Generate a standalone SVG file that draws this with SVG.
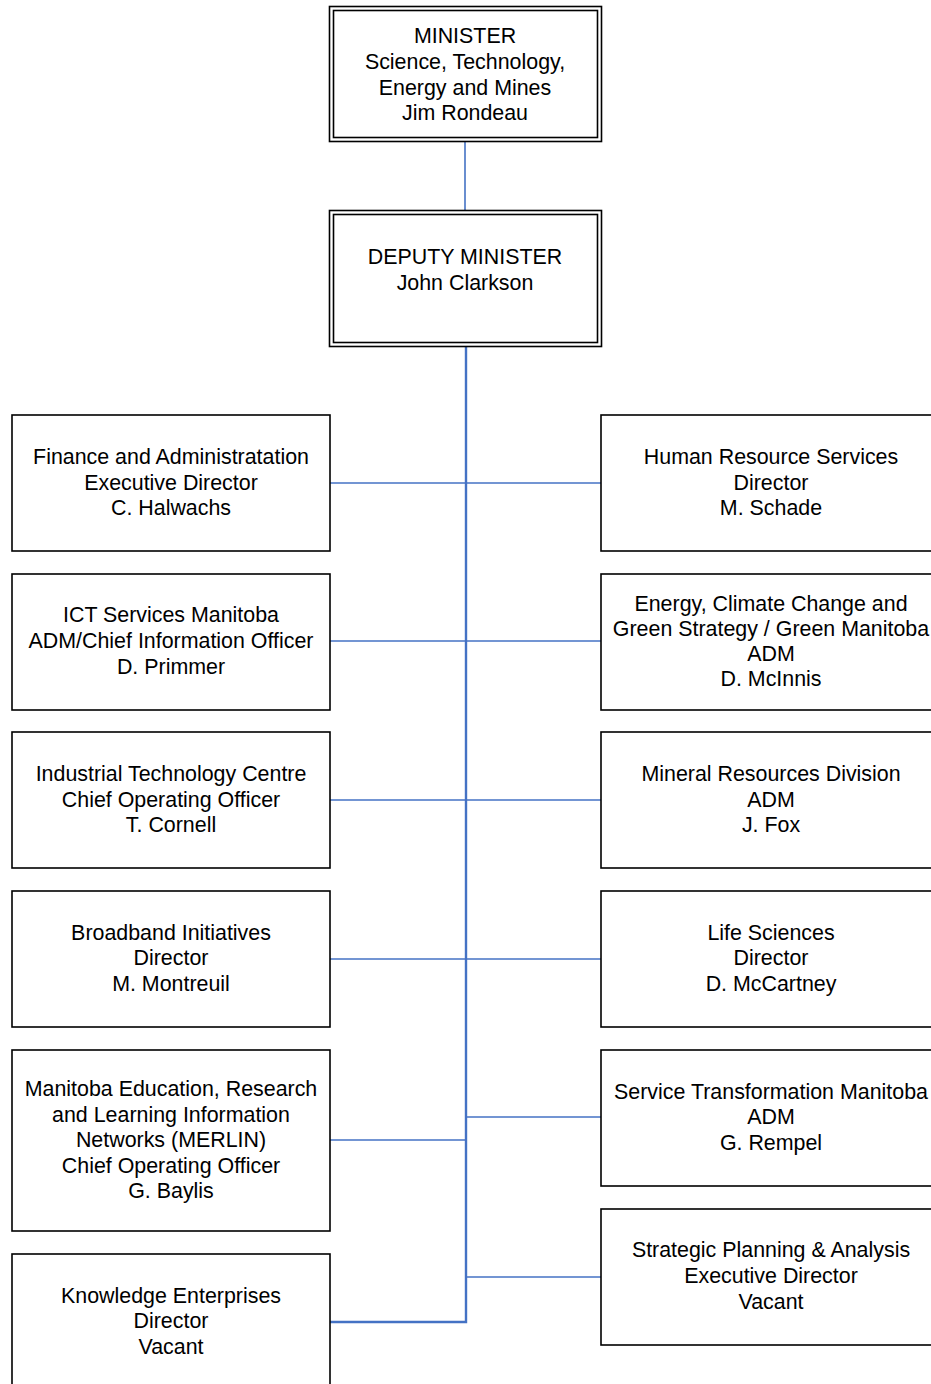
<svg xmlns="http://www.w3.org/2000/svg" width="931" height="1384" viewBox="0 0 931 1384">
<style>
.box{fill:#fff;stroke:#000;stroke-width:1.6}
.dbl{fill:none;stroke:#000;stroke-width:1.6}
text{font-family:"Liberation Sans",Arial,sans-serif;font-size:21.4px;fill:#000;text-anchor:middle}
.c{fill:none;stroke:#4472C4;stroke-width:1.6}
.ct{fill:none;stroke:#4472C4;stroke-width:2.4}
</style>
<rect width="931" height="1384" fill="#fff"/>
<g id="connectors">
<line class="c" x1="465" y1="142" x2="465" y2="210"/>
<polyline class="ct" points="466,347 466,1322 330,1322"/>
<line class="c" x1="330" y1="483" x2="601" y2="483"/>
<line class="c" x1="330" y1="641" x2="601" y2="641"/>
<line class="c" x1="330" y1="800" x2="601" y2="800"/>
<line class="c" x1="330" y1="959" x2="601" y2="959"/>
<line class="c" x1="330" y1="1140" x2="466" y2="1140"/>
<line class="c" x1="466" y1="1117" x2="601" y2="1117"/>
<line class="c" x1="466" y1="1277" x2="601" y2="1277"/>
</g>
<g id="minister">
<rect class="dbl" x="329.5" y="6.5" width="272" height="135"/>
<rect class="dbl" x="333.5" y="10.5" width="264" height="127"/>
<text x="465" y="43">MINISTER</text>
<text x="465" y="69">Science, Technology,</text>
<text x="465" y="95">Energy and Mines</text>
<text x="465" y="120">Jim Rondeau</text>
</g>
<g id="deputy">
<rect class="dbl" x="329.5" y="210.5" width="272" height="136"/>
<rect class="dbl" x="333.5" y="214.5" width="264" height="128"/>
<text x="465" y="264">DEPUTY MINISTER</text>
<text x="465" y="290">John Clarkson</text>
</g>
<g id="finance">
<rect class="box" x="12" y="415" width="318" height="136"/>
<text x="171" y="464">Finance and Administratation</text>
<text x="171" y="490">Executive Director</text>
<text x="171" y="515">C. Halwachs</text>
</g>
<g id="ict">
<rect class="box" x="12" y="574" width="318" height="136"/>
<text x="171" y="622">ICT Services Manitoba</text>
<text x="171" y="648">ADM/Chief Information Officer</text>
<text x="171" y="674">D. Primmer</text>
</g>
<g id="itc">
<rect class="box" x="12" y="732" width="318" height="136"/>
<text x="171" y="781">Industrial Technology Centre</text>
<text x="171" y="807">Chief Operating Officer</text>
<text x="171" y="832">T. Cornell</text>
</g>
<g id="broadband">
<rect class="box" x="12" y="891" width="318" height="136"/>
<text x="171" y="940">Broadband Initiatives</text>
<text x="171" y="965">Director</text>
<text x="171" y="991">M. Montreuil</text>
</g>
<g id="merlin">
<rect class="box" x="12" y="1050" width="318" height="181"/>
<text x="171" y="1096">Manitoba Education, Research</text>
<text x="171" y="1122">and Learning Information</text>
<text x="171" y="1147">Networks (MERLIN)</text>
<text x="171" y="1173">Chief Operating Officer</text>
<text x="171" y="1198">G. Baylis</text>
</g>
<g id="knowledge">
<rect class="box" x="12" y="1254" width="318" height="140"/>
<text x="171" y="1303">Knowledge Enterprises</text>
<text x="171" y="1328">Director</text>
<text x="171" y="1354">Vacant</text>
</g>
<g id="hr">
<rect class="box" x="601" y="415" width="340" height="136"/>
<text x="771" y="464">Human Resource Services</text>
<text x="771" y="490">Director</text>
<text x="771" y="515">M. Schade</text>
</g>
<g id="energy">
<rect class="box" x="601" y="574" width="340" height="136"/>
<text x="771" y="611">Energy, Climate Change and</text>
<text x="771" y="636">Green Strategy / Green Manitoba</text>
<text x="771" y="661">ADM</text>
<text x="771" y="686">D. McInnis</text>
</g>
<g id="mineral">
<rect class="box" x="601" y="732" width="340" height="136"/>
<text x="771" y="781">Mineral Resources Division</text>
<text x="771" y="807">ADM</text>
<text x="771" y="832">J. Fox</text>
</g>
<g id="life">
<rect class="box" x="601" y="891" width="340" height="136"/>
<text x="771" y="940">Life Sciences</text>
<text x="771" y="965">Director</text>
<text x="771" y="991">D. McCartney</text>
</g>
<g id="service">
<rect class="box" x="601" y="1050" width="340" height="136"/>
<text x="771" y="1099">Service Transformation Manitoba</text>
<text x="771" y="1124">ADM</text>
<text x="771" y="1150">G. Rempel</text>
</g>
<g id="strategic">
<rect class="box" x="601" y="1209" width="340" height="136"/>
<text x="771" y="1257">Strategic Planning &amp; Analysis</text>
<text x="771" y="1283">Executive Director</text>
<text x="771" y="1309">Vacant</text>
</g>
</svg>
